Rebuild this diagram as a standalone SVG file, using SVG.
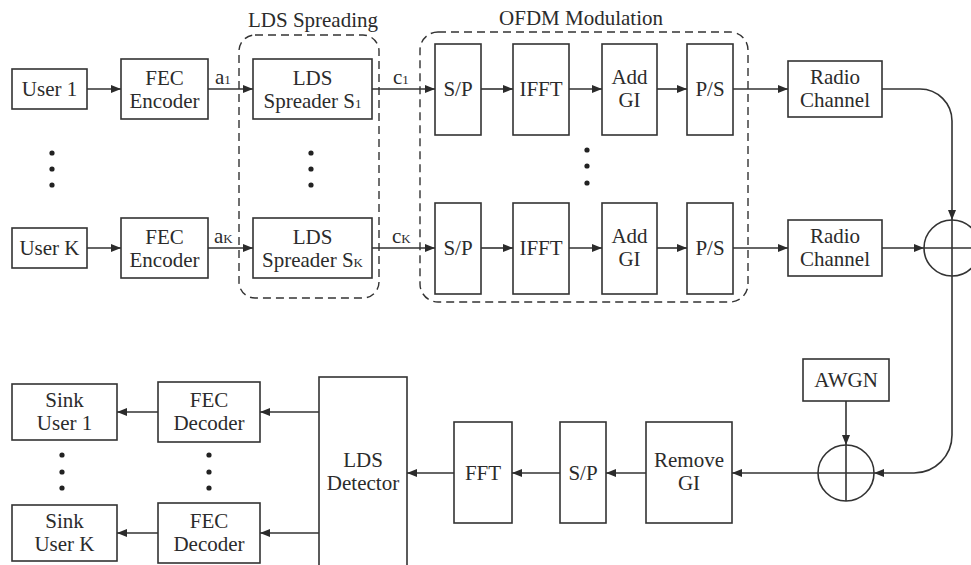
<svg xmlns="http://www.w3.org/2000/svg" width="971" height="565" viewBox="0 0 971 565">
  <defs>
    <marker id="arr" viewBox="0 0 10 8" refX="10" refY="4" markerWidth="10" markerHeight="8" markerUnits="userSpaceOnUse" orient="auto">
      <path d="M0,0 L10,4 L0,8 Z" fill="#2b2b2b"/>
    </marker>
    <style>
      .box { fill: #fff; stroke: #333; stroke-width: 1.6; }
      .grp { fill: none; stroke: #333; stroke-width: 1.4; stroke-dasharray: 8 5; }
      .ln { fill: none; stroke: #333; stroke-width: 1.6; }
      .ar { fill: none; stroke: #333; stroke-width: 1.6; marker-end: url(#arr); }
      text { font-family: "Liberation Serif", "Times New Roman", serif; font-size: 21px; fill: #2b2b2b; text-anchor: middle; }
      .lab { text-anchor: start; }
      .sub { font-size: 13px; }
      .dot { fill: #222; }
    </style>
  </defs>
  <rect width="971" height="565" fill="#fff"/>

  <!-- dashed group frames -->
  <g id="lds-spreading">
    <rect class="grp" x="239" y="35" width="140" height="263" rx="16"/>
    <text x="313" y="27">LDS Spreading</text>
  </g>
  <g id="ofdm-modulation">
    <rect class="grp" x="420" y="32" width="328" height="270" rx="18"/>
    <text x="581" y="25">OFDM Modulation</text>
  </g>

  <!-- transmitter, user 1 -->
  <g id="user1"><rect class="box" x="12" y="69" width="75" height="40"/><text x="49.5" y="96">User 1</text></g>
  <g id="fec-enc1"><rect class="box" x="121" y="59" width="87" height="60"/><text x="164.5" y="85">FEC</text><text x="164.5" y="108">Encoder</text></g>
  <g id="spreader1"><rect class="box" x="253" y="59" width="119" height="60"/><text x="312.5" y="85">LDS</text><text x="312.5" y="108">Spreader S<tspan class="sub">1</tspan></text></g>
  <g id="sp1"><rect class="box" x="435" y="44" width="46" height="91"/><text x="458" y="96">S/P</text></g>
  <g id="ifft1"><rect class="box" x="513" y="44" width="56" height="91"/><text x="541" y="96">IFFT</text></g>
  <g id="addgi1"><rect class="box" x="602" y="44" width="55" height="91"/><text x="629.5" y="84">Add</text><text x="629.5" y="107">GI</text></g>
  <g id="ps1"><rect class="box" x="687" y="44" width="46" height="91"/><text x="710" y="96">P/S</text></g>
  <g id="radio1"><rect class="box" x="788" y="61" width="94" height="56"/><text x="835" y="84">Radio</text><text x="835" y="107">Channel</text></g>

  <!-- transmitter, user K -->
  <g id="userK"><rect class="box" x="12" y="228" width="75" height="40"/><text x="49.5" y="255">User K</text></g>
  <g id="fec-encK"><rect class="box" x="121" y="218" width="87" height="60"/><text x="164.5" y="244">FEC</text><text x="164.5" y="267">Encoder</text></g>
  <g id="spreaderK"><rect class="box" x="253" y="218" width="119" height="60"/><text x="312.5" y="244">LDS</text><text x="312.5" y="267">Spreader S<tspan class="sub">K</tspan></text></g>
  <g id="spK"><rect class="box" x="435" y="203" width="46" height="91"/><text x="458" y="255">S/P</text></g>
  <g id="ifftK"><rect class="box" x="513" y="203" width="56" height="91"/><text x="541" y="255">IFFT</text></g>
  <g id="addgiK"><rect class="box" x="602" y="203" width="55" height="91"/><text x="629.5" y="243">Add</text><text x="629.5" y="266">GI</text></g>
  <g id="psK"><rect class="box" x="687" y="203" width="46" height="91"/><text x="710" y="255">P/S</text></g>
  <g id="radioK"><rect class="box" x="788" y="220" width="94" height="56"/><text x="835" y="243">Radio</text><text x="835" y="266">Channel</text></g>

  <!-- adders -->
  <g id="sum-channel">
    <circle class="ln" cx="952" cy="248" r="28"/>
    <path class="ln" d="M924,248 H980 M952,220 V276"/>
  </g>
  <g id="sum-noise">
    <circle class="ln" cx="846" cy="473" r="28"/>
    <path class="ln" d="M818,473 H874 M846,445 V501"/>
  </g>
  <g id="awgn"><rect class="box" x="803" y="359" width="86" height="42"/><text x="846" y="387">AWGN</text></g>

  <!-- receiver -->
  <g id="remove-gi"><rect class="box" x="646" y="422" width="86" height="101"/><text x="689" y="467">Remove</text><text x="689" y="490">GI</text></g>
  <g id="sp-rx"><rect class="box" x="560" y="422" width="46" height="101"/><text x="583" y="480">S/P</text></g>
  <g id="fft"><rect class="box" x="454" y="422" width="58" height="101"/><text x="483" y="480">FFT</text></g>
  <g id="lds-detector"><rect class="box" x="319" y="377" width="88" height="200"/><text x="363" y="467">LDS</text><text x="363" y="490">Detector</text></g>
  <g id="fec-dec1"><rect class="box" x="158" y="382" width="102" height="60"/><text x="209" y="407">FEC</text><text x="209" y="430">Decoder</text></g>
  <g id="fec-decK"><rect class="box" x="158" y="503" width="102" height="60"/><text x="209" y="528">FEC</text><text x="209" y="551">Decoder</text></g>
  <g id="sink1"><rect class="box" x="12" y="384" width="105" height="56"/><text x="64.5" y="407">Sink</text><text x="64.5" y="430">User 1</text></g>
  <g id="sinkK"><rect class="box" x="12" y="505" width="105" height="56"/><text x="64.5" y="528">Sink</text><text x="64.5" y="551">User K</text></g>

  <!-- ellipsis dots -->
  <g id="ellipses">
    <circle class="dot" cx="52" cy="153" r="2.6"/><circle class="dot" cx="52" cy="169" r="2.6"/><circle class="dot" cx="52" cy="185" r="2.6"/>
    <circle class="dot" cx="311" cy="153" r="2.6"/><circle class="dot" cx="311" cy="169" r="2.6"/><circle class="dot" cx="311" cy="185" r="2.6"/>
    <circle class="dot" cx="587" cy="150" r="2.6"/><circle class="dot" cx="587" cy="166" r="2.6"/><circle class="dot" cx="587" cy="183" r="2.6"/>
    <circle class="dot" cx="62" cy="455" r="2.6"/><circle class="dot" cx="62" cy="472" r="2.6"/><circle class="dot" cx="62" cy="488" r="2.6"/>
    <circle class="dot" cx="209" cy="455" r="2.6"/><circle class="dot" cx="209" cy="472" r="2.6"/><circle class="dot" cx="209" cy="488" r="2.6"/>
  </g>

  <!-- connectors -->
  <g id="connectors">
    <path class="ar" d="M87,89 H121"/>
    <path class="ar" d="M208,89 H253"/>
    <path class="ar" d="M372,89 H435"/>
    <path class="ar" d="M481,89 H513"/>
    <path class="ar" d="M569,89 H602"/>
    <path class="ar" d="M657,89 H687"/>
    <path class="ar" d="M733,89 H788"/>
    <path class="ar" d="M882,89 H920 A32,32 0 0 1 952,121 V220"/>

    <path class="ar" d="M87,248 H121"/>
    <path class="ar" d="M208,248 H253"/>
    <path class="ar" d="M372,248 H435"/>
    <path class="ar" d="M481,248 H513"/>
    <path class="ar" d="M569,248 H602"/>
    <path class="ar" d="M657,248 H687"/>
    <path class="ar" d="M733,248 H788"/>
    <path class="ar" d="M882,248 H924"/>

    <path class="ar" d="M952,276 V435 A38,38 0 0 1 914,473 H874"/>
    <path class="ar" d="M846,401 V445"/>
    <path class="ar" d="M818,473 H732"/>
    <path class="ar" d="M646,473 H606"/>
    <path class="ar" d="M560,473 H512"/>
    <path class="ar" d="M454,473 H407"/>
    <path class="ar" d="M319,412 H260"/>
    <path class="ar" d="M158,412 H117"/>
    <path class="ar" d="M319,533 H260"/>
    <path class="ar" d="M158,533 H117"/>
  </g>

  <!-- signal labels -->
  <g id="signal-labels">
    <text class="lab" x="215" y="84">a<tspan class="sub">1</tspan></text>
    <text class="lab" x="214" y="243">a<tspan class="sub">K</tspan></text>
    <text class="lab" x="393" y="84">c<tspan class="sub">1</tspan></text>
    <text class="lab" x="392" y="243">c<tspan class="sub">K</tspan></text>
  </g>
</svg>
